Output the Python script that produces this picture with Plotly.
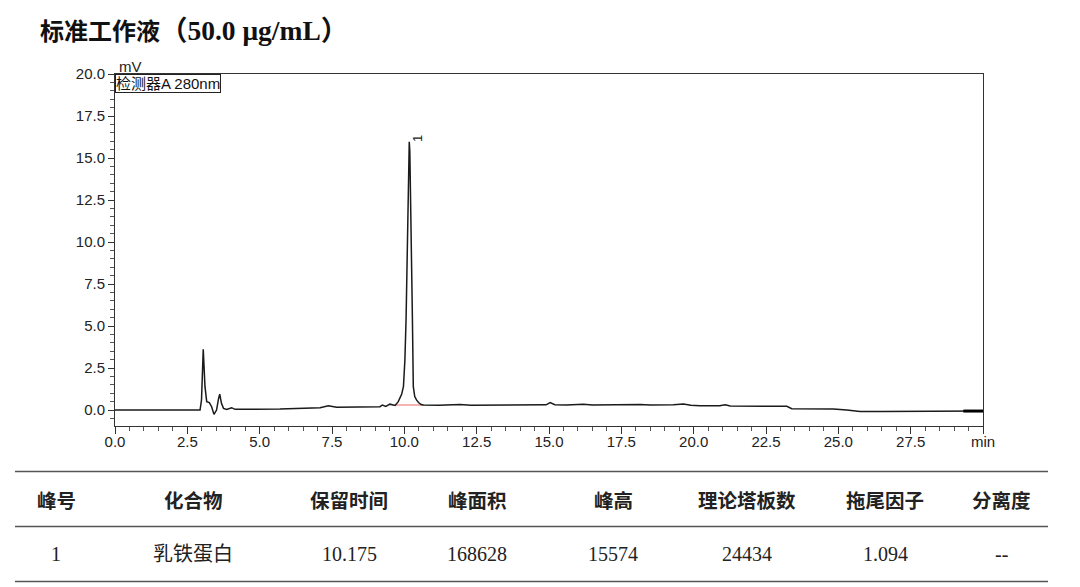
import plotly.graph_objects as go

# ---------------- data ----------------
time_min = [0.0, 1.0, 2.0, 2.94, 2.99, 3.05, 3.11, 3.17, 3.26, 3.34, 3.42, 3.51, 3.58, 3.62,
            3.68, 3.75, 3.86, 4.03, 4.15, 4.54, 5.7, 7.09, 7.37, 7.66, 8.24, 9.16, 9.24, 9.36,
            9.5, 9.68, 9.79, 9.91, 9.97, 10.02, 10.06, 10.09, 10.13, 10.15, 10.17, 10.19,
            10.21, 10.24, 10.28, 10.31, 10.36, 10.42, 10.49, 10.58, 10.66, 11.2, 11.93, 12.3,
            13.5, 14.5, 14.9, 15.04, 15.2, 15.6, 16.19, 16.5, 17.34, 17.6, 18.15, 18.5, 19.3,
            19.65, 19.9, 20.22, 20.9, 21.09, 21.26, 22.5, 23.22, 23.39, 24.2, 24.83, 25.29,
            25.75, 26.5, 27.13, 28.2, 29.32, 30.0]
signal_mv = [0.0, 0.0, 0.0, 0.0, 0.6, 3.61, 1.39, 0.5, 0.44, 0.2, -0.26, 0.0, 0.69, 0.95,
             0.4, 0.1, 0.04, 0.14, 0.04, 0.04, 0.06, 0.14, 0.26, 0.16, 0.16, 0.2, 0.3, 0.22,
             0.35, 0.27, 0.5, 0.95, 1.4, 3.0, 5.4, 9.0, 13.3, 15.3, 15.97, 15.4, 13.6, 9.35,
             5.36, 1.39, 0.8, 0.6, 0.45, 0.33, 0.3, 0.28, 0.33, 0.29, 0.3, 0.3, 0.31, 0.44,
             0.32, 0.3, 0.34, 0.3, 0.33, 0.3, 0.33, 0.3, 0.31, 0.36, 0.29, 0.25, 0.26, 0.32,
             0.24, 0.23, 0.22, 0.08, 0.07, 0.06, 0.0, -0.08, -0.08, -0.08, -0.07, -0.06, -0.06]

baseline_t = [9.68, 10.66]
baseline_v = [0.3, 0.3]
end_t = [29.32, 30.0]
end_v = [-0.06, -0.06]

peak_labels = ["1"]
peak_t = [10.17]
peak_v = [15.97]

x_tickvals = [0, 2.5, 5, 7.5, 10, 12.5, 15, 17.5, 20, 22.5, 25, 27.5, 30]
x_ticktext = ["0.0", "2.5", "5.0", "7.5", "10.0", "12.5", "15.0", "17.5", "20.0",
              "22.5", "25.0", "27.5", "min"]
y_tickvals = [0, 2.5, 5, 7.5, 10, 12.5, 15, 17.5, 20]

title_cn = "标准工作液"
title_conc = "（50.0 μg/mL）"
detector_text = "检测器A 280nm"
y_unit = "mV"

table_headers = ["峰号", "化合物", "保留时间", "峰面积", "峰高", "理论塔板数", "拖尾因子", "分离度"]
table_row = ["1", "乳铁蛋白", "10.175", "168628", "15574", "24434", "1.094", "--"]

# ---------------- layout helpers ----------------
OFF = 8  # page body margin
W, H = 1080 - OFF, 587 - OFF
L, R, T, B = 115, 983, 74, 426  # plot box in screen pixels


def px(xp, yp):
    return (xp - L) / (R - L), (B - yp) / (B - T)


fig = go.Figure()
fig.add_trace(go.Scatter(x=baseline_t, y=baseline_v, mode="lines",
                         line=dict(color="#f08080", width=1.2), hoverinfo="skip"))
fig.add_trace(go.Scatter(x=time_min, y=signal_mv, mode="lines",
                         line=dict(color="#1a1a1a", width=1.5)))
fig.add_trace(go.Scatter(x=end_t, y=end_v, mode="lines",
                         line=dict(color="#000000", width=3)))

axis_font = dict(family="Liberation Sans, Arial, sans-serif", size=15, color="#222")

fig.update_layout(
    width=W, height=H,
    margin=dict(l=L - OFF, r=W - (R - OFF), t=T - OFF, b=H - (B - OFF), pad=0),
    paper_bgcolor="white", plot_bgcolor="white",
    showlegend=False,
    xaxis=dict(range=[0, 30], tickvals=x_tickvals, ticktext=x_ticktext,
               showgrid=False, zeroline=False, showline=True, mirror=True,
               linecolor="#333", linewidth=1, ticks="outside", ticklen=7,
               tickcolor="#333", tickfont=axis_font, ticklabelstandoff=-5,
               minor=dict(dtick=0.5, tick0=0, ticks="outside", ticklen=4, tickcolor="#555")),
    yaxis=dict(range=[-0.95, 20], tickvals=y_tickvals, tickformat=".1f",
               showgrid=False, zeroline=False, showline=True, mirror=True,
               linecolor="#333", linewidth=1, ticks="outside", ticklen=6,
               tickcolor="#333", tickfont=axis_font,
               minor=dict(dtick=0.5, tick0=0, ticks="outside", ticklen=4, tickcolor="#555")),
)

annotations = []
# peak label
for lab, t, v in zip(peak_labels, peak_t, peak_v):
    annotations.append(dict(x=t, y=v, xref="x", yref="y", text=lab, showarrow=False,
                            textangle=-90, xshift=8, yshift=3,
                            font=dict(family="Liberation Sans, Arial", size=13, color="#222")))
# detector box
annotations.append(dict(x=0, y=1, xref="paper", yref="paper", xanchor="left", yanchor="top",
                        text=detector_text, showarrow=False, bordercolor="#222", borderwidth=1,
                        borderpad=0, bgcolor="white",
                        font=dict(family="Liberation Sans, Noto Sans CJK SC", size=15, color="#111")))
# unit
ux, uy = px(117, 66)
annotations.append(dict(x=ux, y=uy, xref="paper", yref="paper", xanchor="left", yanchor="middle",
                        text=y_unit, showarrow=False, font=axis_font))
# title
tx, ty = px(38, 30)
annotations.append(dict(x=tx, y=ty, xref="paper", yref="paper", xanchor="left", yanchor="middle",
                        text="<b>" + title_cn + "<span style='font-size:27.5px'>" + title_conc + "</span></b>",
                        showarrow=False,
                        font=dict(family="Liberation Serif, Noto Sans CJK SC", size=24, color="#111")))

# table
col_centers = [56, 193, 349, 477, 613, 747, 885, 1001]
header_y, row_y = 499, 554
for cx, h, v in zip(col_centers, table_headers, table_row):
    hx, hy = px(cx, header_y)
    annotations.append(dict(x=hx, y=hy, xref="paper", yref="paper", text="<b>" + h + "</b>",
                            showarrow=False, xanchor="center", yanchor="middle",
                            font=dict(family="Noto Sans CJK SC", size=19.5, color="#222")))
    vx, vy = px(cx, row_y)
    annotations.append(dict(x=vx, y=vy, xref="paper", yref="paper", text=v,
                            showarrow=False, xanchor="center", yanchor="middle",
                            font=dict(family="Liberation Serif, Noto Sans CJK SC", size=20, color="#222")))

shapes = []
for ly in [471.5, 526.5, 581.5]:
    x0, y0 = px(15, ly)
    x1, _ = px(1048, ly)
    shapes.append(dict(type="line", xref="paper", yref="paper", x0=x0, x1=x1, y0=y0, y1=y0,
                       line=dict(color="#555", width=1.5)))

fig.update_layout(annotations=annotations, shapes=shapes)
fig.write_html("out.html")
